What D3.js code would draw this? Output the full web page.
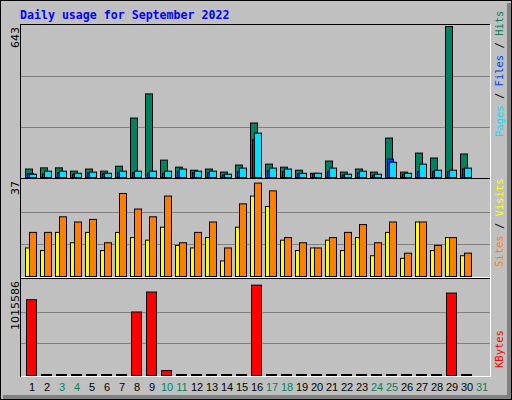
<!DOCTYPE html>
<html><head><meta charset="utf-8">
<script src="https://cdn.jsdelivr.net/npm/d3@7"></script>
<style>body{margin:0;background:#fff}</style></head>
<body><svg id="c" width="512" height="400"></svg>
<script>
const days = d3.range(1, 32);
const weekend = [3,4,10,11,17,18,24,25,31];
const hits  = [36,41,41,27,36,27,48,253,356,74,44,31,36,23,53,232,57,44,31,18,70,23,36,23,168,23,104,83,643,100];
const files = [17,14,20,14,20,17,20,20,17,17,25,20,20,10,25,161,28,25,17,14,25,10,20,10,78,14,25,25,25,36];
const pages = [14,27,27,18,23,18,27,27,27,27,36,27,27,14,40,189,40,36,18,18,40,14,27,14,65,18,57,31,31,40];
const visits= [17,17,23,21,22,13,32,26,23,31,13,17,21,11,28,36,33,15,13,11,15,17,20,13,21,9,21,12,15,9];
const sites = [11,10,17,13,17,10,17,15,14,19,12,11,15,6,19,31,27,14,10,11,14,10,15,8,17,7,21,10,15,8];
const kbytes= [810000,0,0,0,0,0,0,679000,892000,53000,0,0,0,0,0,966000,0,0,0,0,0,0,0,0,0,0,0,0,881000,0];
const maxLabels = ["643","37","1015586"];

const svg = d3.select("#c");
svg.append("rect").attr("x",0).attr("y",0).attr("width",512).attr("height",400).attr("fill","#C0C0C0");
svg.append("rect").attr("x",507).attr("y",3).attr("width",4).attr("height",396).attr("fill","#808080");
svg.append("rect").attr("x",3).attr("y",395).attr("width",508).attr("height",4).attr("fill","#808080");
svg.append("rect").attr("x",0.5).attr("y",0.5).attr("width",511).attr("height",399).attr("fill","none").attr("stroke","#000");

svg.append("text").attr("x",20).attr("y",19).attr("fill","#0000FF")
  .attr("font-family","DejaVu Sans Mono").attr("font-weight","bold").attr("font-size",11.6)
  .text("Daily usage for September 2022");

const x = d3.scaleBand().domain(days).range([23, 488]);
const L = 21, R = 490;
const panels = [
  {top:26, bot:177, max:643},
  {top:180, bot:276, max:37},
  {top:280, bot:375, max:1015586}
];
panels.forEach((p,i)=>{
  p.y = d3.scaleLinear().domain([0,p.max]).range([p.bot,p.top]);
  svg.append("line").attr("x1",L).attr("x2",R).attr("y1",p.top-1.5).attr("y2",p.top-1.5).attr("stroke","#000");
  svg.append("line").attr("x1",L-0.5).attr("x2",L-0.5).attr("y1",p.top-2).attr("y2",p.bot+2).attr("stroke","#000");
  svg.append("line").attr("x1",L).attr("x2",R+1).attr("y1",p.bot+1.5).attr("y2",p.bot+1.5).attr("stroke","#fff");
  svg.append("line").attr("x1",R+0.5).attr("x2",R+0.5).attr("y1",p.top-2).attr("y2",p.bot+2).attr("stroke","#fff");
  [1/3,2/3].forEach(f=>{
    const yy = Math.round(p.y(p.max*f))+0.5;
    svg.append("line").attr("x1",L).attr("x2",R).attr("y1",yy).attr("y2",yy).attr("stroke","#808080");
  });
  svg.append("text").attr("transform",`translate(19,${p.top+1}) rotate(-90)`).attr("text-anchor","end")
    .attr("font-family","DejaVu Sans").attr("font-size",11).attr("fill","#000").text(maxLabels[i]);
});

function bars(data, p, off, w, color){
  svg.append("g").selectAll("rect").data(data).join("rect")
    .attr("x",(d,i)=>x(i+1)+off+0.5).attr("width",w)
    .attr("y",d=>Math.min(p.y(d), p.bot-1)+0.5).attr("height",d=>Math.max(p.bot-p.y(d),1))
    .attr("fill",color).attr("stroke","#000");
}
bars(hits, panels[0], 2, 7, "#008060");
bars(files, panels[0], 4, 6, "#0040FF");
bars(pages, panels[0], 6, 7, "#00E0FF");
bars(sites, panels[1], 2, 4, "#FFFF00");
bars(visits, panels[1], 6, 7, "#FF8000");
bars(kbytes, panels[2], 3, 10, "#FF0000");

svg.append("g").selectAll("text").data(days).join("text")
  .attr("x",d=>x(d)+9).attr("y",391).attr("text-anchor","middle")
  .attr("font-family","Liberation Sans").attr("font-size",11)
  .attr("fill",d=>weekend.includes(d)?"#008060":"#000").text(d=>d);

function legend(parts, yStart){
  const t = svg.append("text").attr("transform",`translate(503,${yStart}) rotate(-90)`)
    .attr("font-family","DejaVu Sans Mono").attr("font-size",10.5);
  parts.forEach(([s,c])=>t.append("tspan").attr("fill",c).attr("xml:space","preserve").text(s));
}
legend([["Pages","#00E0FF"],[" / ","#000"],["Files","#0040FF"],[" / ","#000"],["Hits","#008060"]],137);
legend([["Sites","#FF8000"],[" / ","#000"],["Visits","#FFFF00"]],267);
legend([["KBytes","#FF0000"]],368);
</script></body></html>
